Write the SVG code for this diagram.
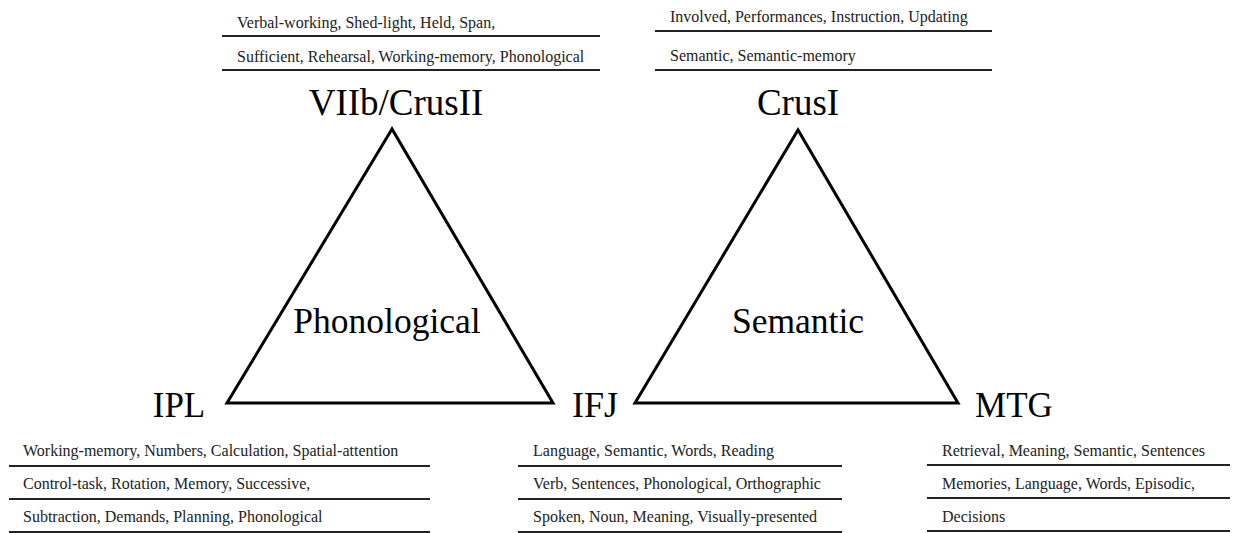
<svg xmlns="http://www.w3.org/2000/svg" width="1233" height="533" viewBox="0 0 1233 533">
<style>
.tri{fill:none;stroke:#000;stroke-width:3;stroke-linejoin:miter}
.sep{stroke:#222;stroke-width:2}
.kw{font-family:"Liberation Serif","Times New Roman",serif;font-size:16px;fill:#222}
.big{font-family:"Liberation Serif","Times New Roman",serif;font-size:37px;fill:#000;text-anchor:middle}
.mid{font-family:"Liberation Serif","Times New Roman",serif;font-size:35.5px;fill:#000;text-anchor:middle}
</style>
<rect width="1233" height="533" fill="#fff"/>
<g id="connectors">
<polygon class="tri" points="392,129 227,403 553,403"/>
<polygon class="tri" points="798,130 635,403 958,403"/>
</g>
<g id="phonological">
<text class="mid" x="387" y="333">Phonological</text>
</g>
<g id="semantic">
<text class="mid" x="798" y="333">Semantic</text>
</g>
<g id="viib-crusii">
<text class="kw" x="237" y="28">Verbal-working, Shed-light, Held, Span,</text>
<line class="sep" x1="222" y1="36" x2="600" y2="36"/>
<text class="kw" x="237" y="62">Sufficient, Rehearsal, Working-memory, Phonological</text>
<line class="sep" x1="222" y1="70" x2="600" y2="70"/>
<text class="big" x="396" y="115">VIIb/CrusII</text>
</g>
<g id="crusi">
<text class="kw" x="670" y="22">Involved, Performances, Instruction, Updating</text>
<line class="sep" x1="655" y1="31" x2="992" y2="31"/>
<text class="kw" x="670" y="61">Semantic, Semantic-memory</text>
<line class="sep" x1="655" y1="70" x2="992" y2="70"/>
<text class="big" x="798" y="115">CrusI</text>
</g>
<g id="ipl">
<text class="big" x="179" y="417" style="font-size:35px">IPL</text>
<text class="kw" x="23" y="456">Working-memory, Numbers, Calculation, Spatial-attention</text>
<line class="sep" x1="9" y1="466" x2="430" y2="466"/>
<text class="kw" x="23" y="489">Control-task, Rotation, Memory, Successive,</text>
<line class="sep" x1="9" y1="499" x2="430" y2="499"/>
<text class="kw" x="23" y="522">Subtraction, Demands, Planning, Phonological</text>
<line class="sep" x1="9" y1="532" x2="430" y2="532"/>
</g>
<g id="ifj">
<text class="big" x="595" y="417" style="font-size:36px">IFJ</text>
<text class="kw" x="533" y="456">Language, Semantic, Words, Reading</text>
<line class="sep" x1="518" y1="466" x2="842" y2="466"/>
<text class="kw" x="533" y="489">Verb, Sentences, Phonological, Orthographic</text>
<line class="sep" x1="518" y1="499" x2="842" y2="499"/>
<text class="kw" x="533" y="522">Spoken, Noun, Meaning, Visually-presented</text>
<line class="sep" x1="518" y1="532" x2="842" y2="532"/>
</g>
<g id="mtg">
<text class="big" x="1014" y="417" style="font-size:35px">MTG</text>
<text class="kw" x="942" y="456">Retrieval, Meaning, Semantic, Sentences</text>
<line class="sep" x1="927" y1="465" x2="1230" y2="465"/>
<text class="kw" x="942" y="489">Memories, Language, Words, Episodic,</text>
<line class="sep" x1="927" y1="498" x2="1230" y2="498"/>
<text class="kw" x="942" y="522">Decisions</text>
<line class="sep" x1="927" y1="531" x2="1230" y2="531"/>
</g>
</svg>
